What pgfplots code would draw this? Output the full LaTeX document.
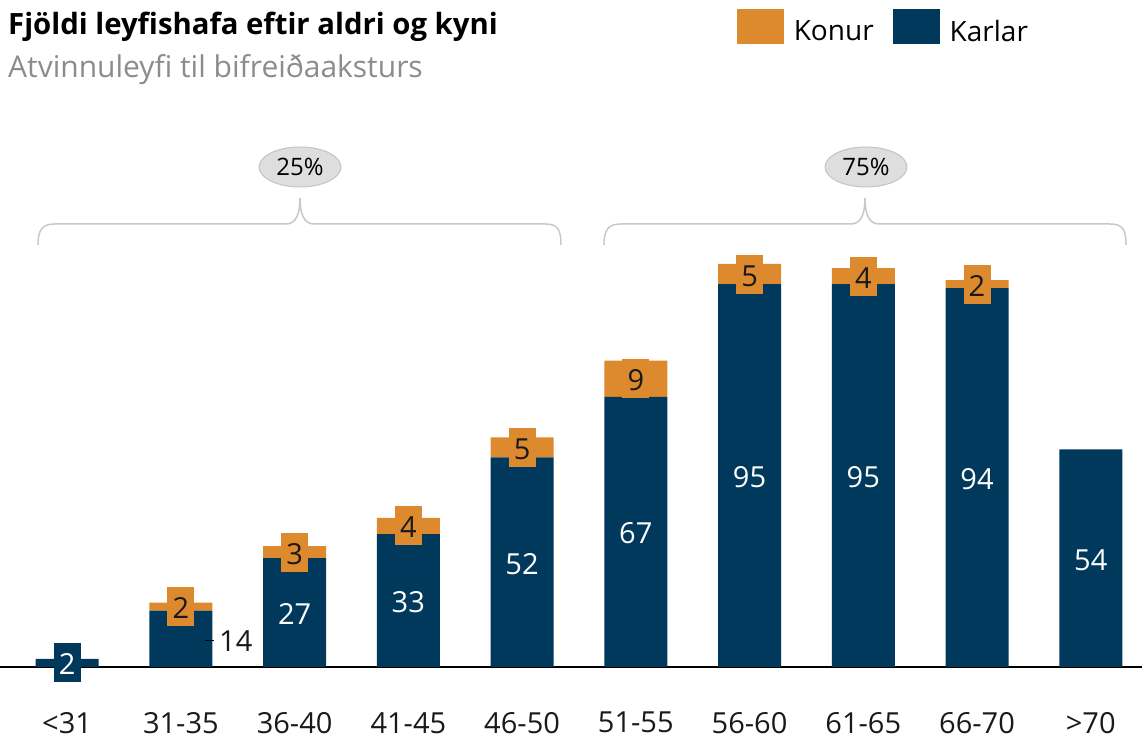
\documentclass[border=0pt]{standalone}
\usepackage{pgfplots}
\pgfplotsset{compat=1.18}
\usepackage{pgfplotstable}
\usepackage{fontspec}
\setmainfont{Open Sans}
\definecolor{konur}{RGB}{221,137,46}
\definecolor{karlar}{RGB}{0,57,92}
\definecolor{bracec}{RGB}{200,200,200}
\definecolor{subgray}{RGB}{140,140,140}
\definecolor{ellfill}{RGB}{222,222,222}
\definecolor{ellline}{RGB}{196,196,196}

\pgfplotstableread{
x kar kon
0 2 0
1 14 2
2 27 3
3 33 4
4 52 5
5 67 9
6 95 5
7 95 4
8 94 2
9 54 0
}\data

\newcommand\lblfont{\fontsize{29}{32}\selectfont}
\newcommand\karbox[1]{\ifnum#1=14\relax\else{\setlength\fboxsep{0pt}\colorbox{karlar}{\makebox[27pt]{\rule[-7.5pt]{0pt}{39pt}\textcolor{white}{#1}}}}\fi}
\newcommand\konbox[1]{\ifnum#1=0\relax\else{\setlength\fboxsep{0pt}\colorbox{konur}{\makebox[27pt]{\rule[-7.5pt]{0pt}{39pt}\textcolor{black!90}{#1}}}}\fi}

\begin{document}
\begin{tikzpicture}[x=1pt,y=1pt]
\path[use as bounding box] (0,0) rectangle (1142,738);
\begin{axis}[
  at={(0pt,71pt)}, anchor=south west,
  scale only axis, width=1142pt, height=403pt,
  xmin=-0.59, xmax=9.45, ymin=0, ymax=100,
  ybar stacked, bar width=63pt,
  axis x line=bottom, axis y line=none,
  axis line style={-, line width=1.3pt, black},
  xtick={0,...,9},
  xticklabels={<31,31-35,36-40,41-45,46-50,51-55,56-60,61-65,66-70,>70},
  major tick length=0pt,
  xticklabel style={anchor=north, inner sep=0pt, text depth=0pt, yshift=-45pt, font=\lblfont, text=black!90},
  ytick=\empty,
  clip=false,
  legend style={at={(0.645,1.588)}, anchor=west, draw=none, fill=none,
    legend columns=2, font=\fontsize{28}{30}\selectfont, inner sep=0pt,
    /tikz/every odd column/.append style={column sep=8pt},
    /tikz/every even column/.append style={column sep=17pt}},
  legend image code/.code={\fill[#1] (0pt,-13pt) rectangle (47pt,22pt);},
]
\addlegendimage{fill=konur, draw=none}
\addlegendimage{fill=karlar, draw=none}
\addplot[fill=karlar, draw=none,
  point meta=explicit symbolic,
  nodes near coords={\karbox{\pgfplotspointmeta}},
  every node near coord/.style={anchor=center, inner sep=0pt, font=\lblfont}]
  table[x=x,y=kar,meta=kar]{\data};
\addplot[fill=konur, draw=none,
  point meta=explicit symbolic,
  nodes near coords={\konbox{\pgfplotspointmeta}},
  every node near coord/.style={anchor=center, inner sep=0pt, font=\lblfont}]
  table[x=x,y=kon,meta=kon]{\data};
\legend{Konur,Karlar}
\end{axis}
% title
\node[anchor=base west, inner sep=0pt] at (8,703) {\fontsize{29.3}{32}\selectfont\bfseries Fjöldi leyfishafa eftir aldri og kyni};
\node[anchor=base west, inner sep=0pt, text=subgray] at (8,660) {\fontsize{30}{32}\selectfont Atvinnuleyfi til bifreiðaaksturs};
% 14 label
\draw[black, line width=1pt] (205,97) -- (214,97);
\node[anchor=west, inner sep=0pt, font=\lblfont, text=black!90] at (219,97) {14};
% braces
\draw[bracec, line width=1.5pt] (38,493) .. controls (38,508) and (42,514) .. (55,514) -- (286,514) .. controls (296,514) and (300,524) .. (300,540)
  .. controls (300,524) and (304,514) .. (314,514) -- (545,514) .. controls (558,514) and (561,508) .. (561,493);
\draw[bracec, line width=1.5pt] (604,493) .. controls (604,508) and (608,514) .. (621,514) -- (851,514) .. controls (861,514) and (865,524) .. (865,540)
  .. controls (865,524) and (869,514) .. (879,514) -- (1110,514) .. controls (1123,514) and (1126,508) .. (1126,493);
\draw[ellline, fill=ellfill, line width=1pt] (300,571) ellipse [x radius=41, y radius=20];
\node[font=\fontsize{24}{26}\selectfont] at (300,571) {25\%};
\draw[ellline, fill=ellfill, line width=1pt] (866,571) ellipse [x radius=41, y radius=20];
\node[font=\fontsize{24}{26}\selectfont] at (866,571) {75\%};
\end{tikzpicture}
\end{document}
